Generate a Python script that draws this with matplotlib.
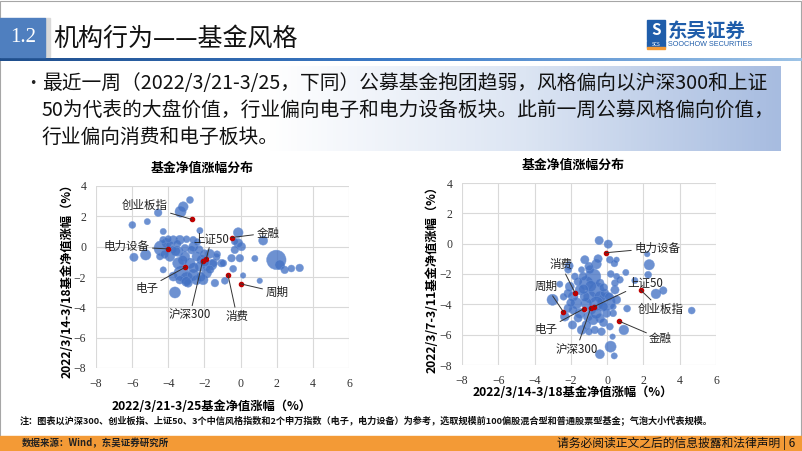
import matplotlib
matplotlib.use("Agg")
import matplotlib.pyplot as plt
import numpy as np
from matplotlib.patches import Rectangle
from matplotlib.colors import LinearSegmentedColormap

CJK = ['Noto Sans CJK SC', 'DejaVu Sans']
SERIF = ['Liberation Serif', 'DejaVu Serif']
plt.rcParams['font.family'] = CJK

# ---------------- data ----------------
index_names = ["创业板指", "金融", "电力设备", "上证50", "沪深300", "电子", "消费", "周期"]

# left chart: x = 2022/3/21-3/25, y = 2022/3/14-3/18
left_idx_x = [-2.7, -0.5, -4.0, -1.9, -2.1, -3.05, -0.7, 0.0]
left_idx_y = [1.8, 0.6, -0.15, -0.8, -0.96, -1.35, -1.85, -2.45]

left_x = [-2.8, -3.17, -3.32, -4.56, -5.99, -5.16, -2.25, -0.13, -4.28, 1.25,
          -5.9, -5.25, -4.28, -3.63, -1.42, -0.87, 0.14, 1.06, 0.79, 1.98,
          2.17, 2.44, 2.81, 3.27, -0.41, 0.05, -0.13, -0.32, -0.5, -0.04,
          -0.32, -2.07, -1.06, -1.6, -1.7, -4.37, -4.1, -3.72, -3.36, -2.99,
          -2.62, -2.62, -3.91, -3.45, -3.08, -3.45, -2.8, -2.44, -2.25, -1.88,
          -3.27, -2.99, -2.62, -2.44, -3.72, -1.88, -1.51, -2.16, -4.46, -3.72,
          -4.28, -3.08, -2.71, -1.33, -0.96, -3.36, -2.9,
          -3.9, -3.6, -2.3, -2.0, -3.2, -2.6, -2.0, -4.2, -3.5, -1.3,
          -2.2, -3.0, -1.7, -4.0, -2.4]
left_y = [3.08, 2.64, 2.31, 2.24, 1.43, 1.65, 1.06, 0.93, 1.0, 0.4,
          -0.7, -0.54, -1.53, -3.02, -2.4, -2.25, -1.9, -2.25, -0.78, -0.87,
          -1.2, -1.53, -1.44, -1.4, -1.46, 0.0, 0.23, -0.21, -0.76, -0.76,
          0.34, -2.19, -1.09, -1.2, -0.47, -0.1, 0.23, 0.45, 0.45, 0.49,
          0.0, 0.45, -0.65, -0.32, -0.65, -1.09, -1.09, -0.65, -1.31, -1.31,
          -1.75, -2.08, -1.86, -2.19, -1.97, -1.75, -1.09, -0.87, -0.65, -0.21,
          0.45, -0.1, -0.21, -0.69, -1.09, -2.19, -2.4,
          0.1, -0.3, -0.2, -0.5, -0.9, -1.4, -1.0, -0.5, 0.2, -0.5,
          -2.0, -2.3, -1.5, 0.5, 0.3]
left_size = [10, 14, 16, 11, 10, 9, 9, 14, 9, 13,
             12, 15, 9, 16, 11, 10, 8, 8, 9, 28,
             14, 11, 10, 11, 10, 12, 13, 11, 11, 11,
             10, 14, 11, 15, 13, 22, 14, 12, 13, 10,
             13, 10, 14, 14, 14, 16, 15, 13, 14, 12,
             22, 18, 16, 14, 13, 14, 12, 14, 10, 10,
             10, 11, 12, 10, 10, 12, 12,
             12, 14, 12, 13, 14, 15, 14, 12, 11, 10,
             14, 14, 12, 10, 10]

# right chart: x = 2022/3/14-3/18, y = 2022/3/7-3/11
right_idx_x = [1.84, 0.66, -0.09, -0.72, -0.9, -1.3, -1.78, -2.41]
right_idx_y = [-3.05, -5.11, -0.6, -4.15, -4.23, -4.3, -3.22, -4.5]

right_x = [-0.44, 0.06, 2.21, 2.32, 2.26, 1.03, 1.53, 2.69, 3.09, 4.66,
           1.1, 0.92, 0.19, 0.39, -0.4, -0.59, -1.23, -1.41, -2.1, -2.15,
           -3.01, -2.61, -2.33, -1.91, -1.4, -0.77, -0.4, -0.31, 0.15, 0.3,
           0.52, 0.43, 0.52, 0.43, -0.03, 0.33, 0.52, 0.15, -0.77, -1.14,
           -0.59, -0.95, -0.4, -0.03, -0.59, -1.14, -1.69, -1.87, -2.06, -2.15,
           -1.5, -1.32, -1.78, -0.95, -0.4, -0.13, -1.5, -1.05, -1.87, -2.15,
           -1.14, -0.68, -0.86, -0.22, 0.33, 0.7, -1.23,
           -0.9, -0.2, -1.6, -0.6, -1.3, 0.1, -2.0, -0.2, -1.0, -0.5,
           0.4, -1.6, -2.4, 0.2, -1.0]
right_y = [0.21, -0.03, -0.69, -1.39, -2.05, -1.9, -2.43, -3.31, -3.09, -4.41,
           -4.28, -5.69, -6.79, -7.4, -7.29, -1.35, -1.06, -1.72, -1.46, -1.72,
           -3.7, -2.67, -4.81, -5.36, -5.69, -5.03, -4.92, -5.8, -5.47, -6.13,
           -3.7, -3.05, -2.16, -2.6, -4.59, -4.59, -1.06, -1.06, -2.16, -2.6,
           -3.05, -3.49, -3.49, -3.82, -3.93, -3.93, -3.93, -3.49, -2.83, -3.27,
           -3.05, -2.16, -2.16, -1.72, -2.6, -3.27, -4.59, -4.81, -4.37, -4.26,
           -5.36, -5.69, -4.37, -4.15, -4.15, -2.38, -3.49,
           -2.8, -2.9, -2.5, -4.6, -3.0, -3.5, -3.9, -5.2, -5.8, -1.0,
           -1.3, -4.9, -3.5, -2.0, -1.5]
right_size = [12, 12, 8, 15, 10, 9, 9, 14, 11, 10,
              10, 14, 16, 9, 13, 14, 12, 9, 12, 10,
              16, 9, 13, 12, 13, 14, 13, 11, 10, 8,
              12, 12, 9, 10, 12, 10, 8, 10, 22, 20,
              22, 18, 16, 26, 20, 16, 16, 14, 13, 12,
              14, 12, 10, 12, 12, 12, 14, 14, 12, 12,
              13, 11, 12, 14, 9, 10, 14,
              16, 12, 12, 16, 14, 12, 12, 12, 10, 12,
              10, 12, 10, 10, 12]

# label text positions (layout, data coordinates)
left_label_pos = {"创业板指": (-5.3, 2.7), "金融": (1.5, 0.9), "电力设备": (-6.3, 0.0),
                  "上证50": (-1.6, 0.55), "沪深300": (-2.8, -4.5), "电子": (-5.2, -2.75),
                  "消费": (-0.2, -4.6), "周期": (2.0, -3.0)}
right_label_pos = {"电力设备": (2.75, -0.29), "消费": (-2.55, -1.39), "上证50": (2.1, -2.54),
                   "沪深300": (-1.69, -6.96), "电子": (-3.38, -5.64), "周期": (-3.35, -2.83),
                   "创业板指": (2.95, -4.32), "金融": (2.95, -6.28)}

xticks = [-8, -6, -4, -2, 0, 2, 4, 6]
yticks = [-8, -6, -4, -2, 0, 2, 4]

# ---------------- figure ----------------
W, H = 802, 451
fig = plt.figure(figsize=(W / 100, H / 100), dpi=100)
fig.patch.set_facecolor('white')

bg = fig.add_axes([0, 0, 1, 1], zorder=0)
bg.set_xlim(0, W)
bg.set_ylim(H, 0)
bg.axis('off')

# header
bg.add_patch(Rectangle((0, 0.5), W - 1, H - 1, fill=False, ec='#A6A6A6', lw=0.8))
bg.add_patch(Rectangle((0, 18), 45, 39, color='#4F7FBF', zorder=2))
bg.add_patch(Rectangle((45, 18), 5, 39, color='#D9D9D9', zorder=1))
bg.text(23, 38, "1.2", color='white', fontsize=15, family=SERIF, ha='center', va='center', zorder=3)
bg.text(53, 39, "机构行为——基金风格", fontsize=18, ha='left', va='center', color='#111111')
grad = np.linspace(0, 1, 256).reshape(1, -1)
cm_line = LinearSegmentedColormap.from_list('l', ['#1F4E8C', '#3D7CC9', '#9DC3E6'])
bg.imshow(grad, cmap=cm_line, extent=(0, W, 61, 58), aspect='auto', zorder=1)

# logo
bg.add_patch(Rectangle((647, 20), 18, 20, color='#1F5DAA', zorder=2))
bg.text(656, 30, "S", color='white', fontsize=11, fontweight='bold', ha='center', va='center', zorder=3)
bg.add_patch(Rectangle((647, 41), 18, 6, color='#1F5DAA', zorder=2))
bg.text(656, 44, "SCS", color='white', fontsize=3.5, ha='center', va='center', zorder=3)
bg.add_patch(Rectangle((647, 47), 18, 2, color='#F39A36', zorder=2))
bg.text(668, 31, "东吴证券", color='#1F5DAA', fontsize=14, fontweight='bold', ha='left', va='center')
bg.text(668, 45, "SOOCHOW SECURITIES", color='#1F5DAA', fontsize=5.2, ha='left', va='center', family=['Liberation Sans'])

# text box gradient
cm_box = LinearSegmentedColormap.from_list('b', ['#FFFFFF', '#FFFFFF', '#DCE5F3', '#A7BCE0'])
bg.imshow(grad, cmap=cm_box, extent=(12, 781, 151, 66), aspect='auto', zorder=1)
bg.text(33, 84, "•", fontsize=9, ha='center', va='center', color='#222222', zorder=3,
        family=['DejaVu Sans'])
lines = ["最近一周（2022/3/21-3/25，下同）公募基金抱团趋弱，风格偏向以沪深300和上证",
         "50为代表的大盘价值，行业偏向电子和电力设备板块。此前一周公募风格偏向价值，",
         "行业偏向消费和电子板块。"]
for i, t in enumerate(lines):
    bg.text(42, 84 + 26.5 * i, t, fontsize=14.2, ha='left', va='center', color='#111111', zorder=3)

# chart titles and axis labels
bg.text(202, 168, "基金净值涨幅分布", fontsize=9.3, fontweight='bold', ha='center', va='center')
bg.text(573, 165, "基金净值涨幅分布", fontsize=9.3, fontweight='bold', ha='center', va='center')
bg.text(212, 406, "2022/3/21-3/25基金净值涨幅（%）", fontsize=8.8, fontweight='bold', ha='center', va='center')
bg.text(573, 392, "2022/3/14-3/18基金净值涨幅（%）", fontsize=8.8, fontweight='bold', ha='center', va='center')
bg.text(67, 278, "2022/3/14-3/18基金净值涨幅（%）", fontsize=8.8, fontweight='bold', ha='center', va='center', rotation=90)
bg.text(432, 276, "2022/3/7-3/11基金净值涨幅（%）", fontsize=8.8, fontweight='bold', ha='center', va='center', rotation=90)

# footer
bg.text(20, 420, "注：图表以沪深300、创业板指、上证50、3个中信风格指数和2个申万指数（电子，电力设备）为参考，选取规模前100偏股混合型和普通股票型基金；气泡大小代表规模。",
        fontsize=6.6, fontweight='bold', ha='left', va='center', color='#111111')
bg.add_patch(Rectangle((0, 436), W, 15, color='#F39A36', zorder=2))
bg.text(22, 443.5, "数据来源：Wind，东吴证券研究所", fontsize=6.8, fontweight='bold', ha='left', va='center', color='#222222', zorder=3)
bg.text(795, 443.5, "请务必阅读正文之后的信息披露和法律声明 | 6", fontsize=8.5, ha='right', va='center', color='#111111', zorder=3)


def make_chart(rect, bx, by, bs, ix, iy, label_pos):
    ax = fig.add_axes(rect, zorder=2)
    ax.set_facecolor('none')
    s = (np.array(bs) * 0.5) ** 2
    ax.scatter(bx, by, s=s, color='#4472C4', alpha=0.78, edgecolors='#6E94D6', linewidths=0.4, zorder=3)
    ax.scatter(ix, iy, s=9, color='#C00000', zorder=5)
    for name, x, y in zip(index_names, ix, iy):
        tx, ty = label_pos[name]
        ax.annotate(name, xy=(x, y), xytext=(tx, ty), fontsize=8.3, ha='center', va='center',
                    color='#222222', zorder=6,
                    arrowprops=dict(arrowstyle='-', color='#333333', lw=0.7, shrinkA=0, shrinkB=0))
    ax.set_xlim(-8, 6)
    ax.set_ylim(-8, 4)
    ax.set_xticks(xticks)
    ax.set_yticks(yticks)
    ax.grid(True, color='#D9D9D9', lw=0.8, zorder=0)
    ax.set_axisbelow(True)
    for sp in ax.spines.values():
        sp.set_visible(False)
    ax.tick_params(length=0, labelsize=8.5, colors='#333333', pad=7)
    for lab in ax.get_xticklabels() + ax.get_yticklabels():
        lab.set_family(SERIF)
    return ax


make_chart([96 / W, 1 - 368 / H, 253 / W, 182 / H], left_x, left_y, left_size,
           left_idx_x, left_idx_y, left_label_pos)
make_chart([462 / W, 1 - 365 / H, 254 / W, 182 / H], right_x, right_y, right_size,
           right_idx_x, right_idx_y, right_label_pos)

fig.savefig("out.png", dpi=100)
